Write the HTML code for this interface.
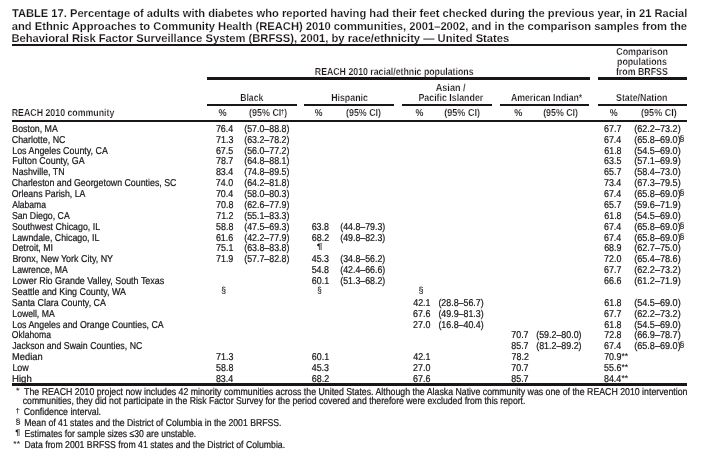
<!DOCTYPE html>
<html lang="en">
<head>
<meta charset="utf-8">
<title>TABLE 17</title>
<style>
html,body{margin:0;padding:0;background:#fff;}
body{width:701px;overflow:hidden;}
svg{display:block;font-family:"Liberation Sans",Arial,Helvetica,sans-serif;font-size:10.0px;fill:#191519;}
text{white-space:pre;}
.c0{font-size:11.3px;font-weight:bold;stroke:#fff;stroke-width:0.15;stroke-linejoin:round}
.c1{font-size:10.2px;font-weight:bold;stroke:#fff;stroke-width:0.18;stroke-linejoin:round}
.c2{font-size:10.2px;font-weight:bold;stroke:#fff;stroke-width:0.1;stroke-linejoin:round}
.c3{font-size:6.82px;font-weight:bold}
.c4{font-size:10px;stroke:#191519;stroke-width:0.22;stroke-linejoin:round}
.c5{font-size:8.04px;stroke:#191519;stroke-width:0.1;stroke-linejoin:round}
.c6{font-size:8.55px;stroke:#191519;stroke-width:0.1;stroke-linejoin:round}
.c7{font-size:7.96px;font-weight:bold}
.c8{font-size:8.78px;stroke:#191519;stroke-width:0.1;stroke-linejoin:round}
.c9{font-size:7.41px;stroke:#191519;stroke-width:0.1;stroke-linejoin:round}
.c10{font-size:6.94px;stroke:#191519;stroke-width:0.1;stroke-linejoin:round}
.c11{font-size:7.67px;stroke:#191519;stroke-width:0.1;stroke-linejoin:round}
.c12{font-size:7.12px;stroke:#191519;stroke-width:0.1;stroke-linejoin:round}
</style>
</head>
<body>
<svg width="701" height="461" viewBox="0 0 701 461" text-rendering="geometricPrecision">
<rect x="0" y="0" width="701" height="461" fill="#fff"/>
<text class="c0" x="11.9" y="17" textLength="675.51" lengthAdjust="spacingAndGlyphs">TABLE 17. Percentage of adults with diabetes who reported having had their feet checked during the previous year, in 21 Racial</text>
<text class="c0" x="11.74" y="30" textLength="675.27" lengthAdjust="spacingAndGlyphs">and Ethnic Approaches to Community Health (REACH) 2010 communities, 2001–2002, and in the comparison samples from the</text>
<text class="c0" x="11.38" y="42" textLength="497.96" lengthAdjust="spacingAndGlyphs">Behavioral Risk Factor Surveillance System (BRFSS), 2001, by race/ethnicity — United States</text>
<text class="c1" x="314.8" y="75" textLength="158.74" lengthAdjust="spacingAndGlyphs">REACH 2010 racial/ethnic populations</text>
<text class="c1" x="616.26" y="55" textLength="51.79" lengthAdjust="spacingAndGlyphs">Comparison</text>
<text class="c1" x="617.02" y="65" textLength="49.78" lengthAdjust="spacingAndGlyphs">populations</text>
<text class="c1" x="615.95" y="75" textLength="51.83" lengthAdjust="spacingAndGlyphs">from BRFSS</text>
<text class="c1" x="240.22" y="101" textLength="23.05" lengthAdjust="spacingAndGlyphs">Black</text>
<text class="c1" x="331.15" y="101" textLength="36.78" lengthAdjust="spacingAndGlyphs">Hispanic</text>
<text class="c1" x="435.72" y="91" textLength="29.86" lengthAdjust="spacingAndGlyphs">Asian /</text>
<text class="c1" x="418.42" y="101" textLength="64.88" lengthAdjust="spacingAndGlyphs">Pacific Islander</text>
<text class="c1" x="510.9" y="101" textLength="71.35" lengthAdjust="spacingAndGlyphs">American Indian*</text>
<text class="c1" x="616.06" y="101" textLength="51.46" lengthAdjust="spacingAndGlyphs">State/Nation</text>
<text class="c1" x="11.75" y="116" textLength="102.63" lengthAdjust="spacingAndGlyphs">REACH 2010 community</text>
<text class="c2" x="218.6" y="116" textLength="8.12" lengthAdjust="spacingAndGlyphs">%</text>
<text class="c1" x="249" y="116" textLength="32.35" lengthAdjust="spacingAndGlyphs">(95% CI</text>
<text class="c3" x="280.88" y="113.54" textLength="3.18" lengthAdjust="spacingAndGlyphs">†</text>
<text class="c1" x="284.13" y="116" textLength="2.85" lengthAdjust="spacingAndGlyphs">)</text>
<text class="c2" x="314.8" y="116" textLength="7.72" lengthAdjust="spacingAndGlyphs">%</text>
<text class="c1" x="346.07" y="116" textLength="34.9" lengthAdjust="spacingAndGlyphs">(95% CI)</text>
<text class="c2" x="415.45" y="116" textLength="7.91" lengthAdjust="spacingAndGlyphs">%</text>
<text class="c1" x="444.31" y="116" textLength="35.67" lengthAdjust="spacingAndGlyphs">(95% CI)</text>
<text class="c2" x="514.28" y="116" textLength="8.14" lengthAdjust="spacingAndGlyphs">%</text>
<text class="c1" x="543.14" y="116" textLength="34.83" lengthAdjust="spacingAndGlyphs">(95% CI)</text>
<text class="c2" x="609.86" y="116" textLength="7.91" lengthAdjust="spacingAndGlyphs">%</text>
<text class="c1" x="641.1" y="116" textLength="35.61" lengthAdjust="spacingAndGlyphs">(95% CI)</text>
<text class="c4" x="12.28" y="132" textLength="45.54" lengthAdjust="spacingAndGlyphs">Boston, MA</text>
<text class="c4" x="11.73" y="143" textLength="53.73" lengthAdjust="spacingAndGlyphs">Charlotte, NC</text>
<text class="c4" x="12.24" y="154" textLength="95.61" lengthAdjust="spacingAndGlyphs">Los Angeles County, CA</text>
<text class="c4" x="12.25" y="164" textLength="72.32" lengthAdjust="spacingAndGlyphs">Fulton County, GA</text>
<text class="c4" x="12.27" y="175" textLength="52.3" lengthAdjust="spacingAndGlyphs">Nashville, TN</text>
<text class="c4" x="11.75" y="186" textLength="164.72" lengthAdjust="spacingAndGlyphs">Charleston and Georgetown Counties, SC</text>
<text class="c4" x="11.78" y="197" textLength="73.72" lengthAdjust="spacingAndGlyphs">Orleans Parish, LA</text>
<text class="c4" x="12.22" y="208" textLength="33.72" lengthAdjust="spacingAndGlyphs">Alabama</text>
<text class="c4" x="11.88" y="219" textLength="57.84" lengthAdjust="spacingAndGlyphs">San Diego, CA</text>
<text class="c4" x="11.88" y="230" textLength="88.18" lengthAdjust="spacingAndGlyphs">Southwest Chicago, IL</text>
<text class="c4" x="12.3" y="241" textLength="87.04" lengthAdjust="spacingAndGlyphs">Lawndale, Chicago, IL</text>
<text class="c4" x="12.29" y="251" textLength="40.8" lengthAdjust="spacingAndGlyphs">Detroit, MI</text>
<text class="c4" x="12.4" y="262" textLength="100.7" lengthAdjust="spacingAndGlyphs">Bronx, New York City, NY</text>
<text class="c4" x="12.35" y="273" textLength="55.35" lengthAdjust="spacingAndGlyphs">Lawrence, MA</text>
<text class="c4" x="12.41" y="284" textLength="151.79" lengthAdjust="spacingAndGlyphs">Lower Rio Grande Valley, South Texas</text>
<text class="c4" x="11.85" y="295" textLength="114.03" lengthAdjust="spacingAndGlyphs">Seattle and King County, WA</text>
<text class="c4" x="11.87" y="306" textLength="94.05" lengthAdjust="spacingAndGlyphs">Santa Clara County, CA</text>
<text class="c4" x="12.34" y="317" textLength="42.34" lengthAdjust="spacingAndGlyphs">Lowell, MA</text>
<text class="c4" x="12.27" y="328" textLength="151.48" lengthAdjust="spacingAndGlyphs">Los Angeles and Orange Counties, CA</text>
<text class="c4" x="11.81" y="338" textLength="39.14" lengthAdjust="spacingAndGlyphs">Oklahoma</text>
<text class="c4" x="12.14" y="349" textLength="130.18" lengthAdjust="spacingAndGlyphs">Jackson and Swain Counties, NC</text>
<text class="c4" x="12.09" y="360" textLength="30.49" lengthAdjust="spacingAndGlyphs">Median</text>
<text class="c4" x="12.41" y="371" textLength="16.33" lengthAdjust="spacingAndGlyphs">Low</text>
<text class="c4" x="12.05" y="382" textLength="19.69" lengthAdjust="spacingAndGlyphs">High</text>
<text class="c4" x="215.88" y="132" textLength="17.32" lengthAdjust="spacingAndGlyphs">76.4</text>
<text class="c4" x="244.2" y="132" textLength="45.2" lengthAdjust="spacingAndGlyphs">(57.0–88.8)</text>
<text class="c4" x="216.11" y="143" textLength="17.32" lengthAdjust="spacingAndGlyphs">71.3</text>
<text class="c4" x="244.2" y="143" textLength="45.2" lengthAdjust="spacingAndGlyphs">(63.2–78.2)</text>
<text class="c4" x="215.91" y="154" textLength="17.32" lengthAdjust="spacingAndGlyphs">67.5</text>
<text class="c4" x="244.2" y="154" textLength="45.2" lengthAdjust="spacingAndGlyphs">(56.0–77.2)</text>
<text class="c4" x="216.01" y="164" textLength="17.32" lengthAdjust="spacingAndGlyphs">78.7</text>
<text class="c4" x="244.2" y="164" textLength="45.2" lengthAdjust="spacingAndGlyphs">(64.8–88.1)</text>
<text class="c4" x="215.88" y="175" textLength="17.32" lengthAdjust="spacingAndGlyphs">83.4</text>
<text class="c4" x="244.2" y="175" textLength="45.2" lengthAdjust="spacingAndGlyphs">(74.8–89.5)</text>
<text class="c4" x="215.79" y="186" textLength="17.32" lengthAdjust="spacingAndGlyphs">74.0</text>
<text class="c4" x="244.2" y="186" textLength="45.2" lengthAdjust="spacingAndGlyphs">(64.2–81.8)</text>
<text class="c4" x="215.88" y="197" textLength="17.32" lengthAdjust="spacingAndGlyphs">70.4</text>
<text class="c4" x="244.2" y="197" textLength="45.2" lengthAdjust="spacingAndGlyphs">(58.0–80.3)</text>
<text class="c4" x="216.11" y="208" textLength="17.32" lengthAdjust="spacingAndGlyphs">70.8</text>
<text class="c4" x="244.2" y="208" textLength="45.2" lengthAdjust="spacingAndGlyphs">(62.6–77.9)</text>
<text class="c4" x="216.2" y="219" textLength="17.32" lengthAdjust="spacingAndGlyphs">71.2</text>
<text class="c4" x="244.2" y="219" textLength="45.2" lengthAdjust="spacingAndGlyphs">(55.1–83.3)</text>
<text class="c4" x="216.11" y="230" textLength="17.32" lengthAdjust="spacingAndGlyphs">58.8</text>
<text class="c4" x="244.2" y="230" textLength="45.2" lengthAdjust="spacingAndGlyphs">(47.5–69.3)</text>
<text class="c4" x="215.9" y="241" textLength="17.32" lengthAdjust="spacingAndGlyphs">61.6</text>
<text class="c4" x="244.2" y="241" textLength="45.2" lengthAdjust="spacingAndGlyphs">(42.2–77.9)</text>
<text class="c4" x="216.06" y="251" textLength="17.32" lengthAdjust="spacingAndGlyphs">75.1</text>
<text class="c4" x="244.2" y="251" textLength="45.2" lengthAdjust="spacingAndGlyphs">(63.8–83.8)</text>
<text class="c4" x="216" y="262" textLength="17.32" lengthAdjust="spacingAndGlyphs">71.9</text>
<text class="c4" x="244.2" y="262" textLength="45.2" lengthAdjust="spacingAndGlyphs">(57.7–82.8)</text>
<text class="c4" x="311.68" y="230" textLength="17.32" lengthAdjust="spacingAndGlyphs">63.8</text>
<text class="c4" x="340.28" y="230" textLength="45" lengthAdjust="spacingAndGlyphs">(44.8–79.3)</text>
<text class="c4" x="311.81" y="241" textLength="17.32" lengthAdjust="spacingAndGlyphs">68.2</text>
<text class="c4" x="340.28" y="241" textLength="45" lengthAdjust="spacingAndGlyphs">(49.8–82.3)</text>
<text class="c4" x="311.7" y="262" textLength="17.32" lengthAdjust="spacingAndGlyphs">45.3</text>
<text class="c4" x="340.28" y="262" textLength="45" lengthAdjust="spacingAndGlyphs">(34.8–56.2)</text>
<text class="c4" x="311.68" y="273" textLength="17.32" lengthAdjust="spacingAndGlyphs">54.8</text>
<text class="c4" x="340.28" y="273" textLength="45" lengthAdjust="spacingAndGlyphs">(42.4–66.6)</text>
<text class="c4" x="311.86" y="284" textLength="17.32" lengthAdjust="spacingAndGlyphs">60.1</text>
<text class="c4" x="340.28" y="284" textLength="45" lengthAdjust="spacingAndGlyphs">(51.3–68.2)</text>
<text class="c4" x="413.19" y="306" textLength="17.32" lengthAdjust="spacingAndGlyphs">42.1</text>
<text class="c4" x="438.38" y="306" textLength="45.33" lengthAdjust="spacingAndGlyphs">(28.8–56.7)</text>
<text class="c4" x="413.04" y="317" textLength="17.32" lengthAdjust="spacingAndGlyphs">67.6</text>
<text class="c4" x="438.38" y="317" textLength="45.33" lengthAdjust="spacingAndGlyphs">(49.9–81.3)</text>
<text class="c4" x="413.02" y="328" textLength="17.32" lengthAdjust="spacingAndGlyphs">27.0</text>
<text class="c4" x="438.38" y="328" textLength="45.33" lengthAdjust="spacingAndGlyphs">(16.8–40.4)</text>
<text class="c4" x="511.25" y="338" textLength="17.32" lengthAdjust="spacingAndGlyphs">70.7</text>
<text class="c4" x="536.2" y="338" textLength="45.37" lengthAdjust="spacingAndGlyphs">(59.2–80.0)</text>
<text class="c4" x="511.25" y="349" textLength="17.32" lengthAdjust="spacingAndGlyphs">85.7</text>
<text class="c4" x="536.2" y="349" textLength="45.37" lengthAdjust="spacingAndGlyphs">(81.2–89.2)</text>
<text class="c4" x="604.03" y="132" textLength="17.32" lengthAdjust="spacingAndGlyphs">67.7</text>
<text class="c4" x="634.18" y="132" textLength="46.53" lengthAdjust="spacingAndGlyphs">(62.2–73.2)</text>
<text class="c4" x="603.95" y="143" textLength="17.32" lengthAdjust="spacingAndGlyphs">67.4</text>
<text class="c4" x="634.18" y="143" textLength="46.53" lengthAdjust="spacingAndGlyphs">(65.8–69.0)</text>
<text class="c5" x="679.64" y="141.22" textLength="4.93" lengthAdjust="spacingAndGlyphs">§</text>
<text class="c4" x="604.25" y="154" textLength="17.32" lengthAdjust="spacingAndGlyphs">61.8</text>
<text class="c4" x="634.18" y="154" textLength="46.53" lengthAdjust="spacingAndGlyphs">(54.5–69.0)</text>
<text class="c4" x="604.06" y="164" textLength="17.32" lengthAdjust="spacingAndGlyphs">63.5</text>
<text class="c4" x="634.18" y="164" textLength="46.53" lengthAdjust="spacingAndGlyphs">(57.1–69.9)</text>
<text class="c4" x="604.03" y="175" textLength="17.32" lengthAdjust="spacingAndGlyphs">65.7</text>
<text class="c4" x="634.18" y="175" textLength="46.53" lengthAdjust="spacingAndGlyphs">(58.4–73.0)</text>
<text class="c4" x="603.95" y="186" textLength="17.32" lengthAdjust="spacingAndGlyphs">73.4</text>
<text class="c4" x="634.18" y="186" textLength="46.53" lengthAdjust="spacingAndGlyphs">(67.3–79.5)</text>
<text class="c4" x="603.95" y="197" textLength="17.32" lengthAdjust="spacingAndGlyphs">67.4</text>
<text class="c4" x="634.18" y="197" textLength="46.53" lengthAdjust="spacingAndGlyphs">(65.8–69.0)</text>
<text class="c5" x="679.64" y="195.22" textLength="4.93" lengthAdjust="spacingAndGlyphs">§</text>
<text class="c4" x="604.03" y="208" textLength="17.32" lengthAdjust="spacingAndGlyphs">65.7</text>
<text class="c4" x="634.18" y="208" textLength="46.53" lengthAdjust="spacingAndGlyphs">(59.6–71.9)</text>
<text class="c4" x="604.25" y="219" textLength="17.32" lengthAdjust="spacingAndGlyphs">61.8</text>
<text class="c4" x="634.18" y="219" textLength="46.53" lengthAdjust="spacingAndGlyphs">(54.5–69.0)</text>
<text class="c4" x="603.95" y="230" textLength="17.32" lengthAdjust="spacingAndGlyphs">67.4</text>
<text class="c4" x="634.18" y="230" textLength="46.53" lengthAdjust="spacingAndGlyphs">(65.8–69.0)</text>
<text class="c5" x="679.64" y="228.22" textLength="4.93" lengthAdjust="spacingAndGlyphs">§</text>
<text class="c4" x="603.95" y="241" textLength="17.32" lengthAdjust="spacingAndGlyphs">67.4</text>
<text class="c4" x="634.18" y="241" textLength="46.53" lengthAdjust="spacingAndGlyphs">(65.8–69.0)</text>
<text class="c5" x="679.64" y="239.22" textLength="4.93" lengthAdjust="spacingAndGlyphs">§</text>
<text class="c4" x="604.14" y="251" textLength="17.32" lengthAdjust="spacingAndGlyphs">68.9</text>
<text class="c4" x="634.18" y="251" textLength="46.53" lengthAdjust="spacingAndGlyphs">(62.7–75.0)</text>
<text class="c4" x="604.02" y="262" textLength="17.32" lengthAdjust="spacingAndGlyphs">72.0</text>
<text class="c4" x="634.18" y="262" textLength="46.53" lengthAdjust="spacingAndGlyphs">(65.4–78.6)</text>
<text class="c4" x="604.03" y="273" textLength="17.32" lengthAdjust="spacingAndGlyphs">67.7</text>
<text class="c4" x="634.18" y="273" textLength="46.53" lengthAdjust="spacingAndGlyphs">(62.2–73.2)</text>
<text class="c4" x="604.04" y="284" textLength="17.32" lengthAdjust="spacingAndGlyphs">66.6</text>
<text class="c4" x="634.18" y="284" textLength="46.53" lengthAdjust="spacingAndGlyphs">(61.2–71.9)</text>
<text class="c4" x="604.25" y="306" textLength="17.32" lengthAdjust="spacingAndGlyphs">61.8</text>
<text class="c4" x="634.18" y="306" textLength="46.53" lengthAdjust="spacingAndGlyphs">(54.5–69.0)</text>
<text class="c4" x="604.03" y="317" textLength="17.32" lengthAdjust="spacingAndGlyphs">67.7</text>
<text class="c4" x="634.18" y="317" textLength="46.53" lengthAdjust="spacingAndGlyphs">(62.2–73.2)</text>
<text class="c4" x="604.25" y="328" textLength="17.32" lengthAdjust="spacingAndGlyphs">61.8</text>
<text class="c4" x="634.18" y="328" textLength="46.53" lengthAdjust="spacingAndGlyphs">(54.5–69.0)</text>
<text class="c4" x="604.25" y="338" textLength="17.32" lengthAdjust="spacingAndGlyphs">72.8</text>
<text class="c4" x="634.18" y="338" textLength="46.53" lengthAdjust="spacingAndGlyphs">(66.9–78.7)</text>
<text class="c4" x="603.95" y="349" textLength="17.32" lengthAdjust="spacingAndGlyphs">67.4</text>
<text class="c4" x="634.18" y="349" textLength="46.53" lengthAdjust="spacingAndGlyphs">(65.8–69.0)</text>
<text class="c5" x="679.64" y="347.22" textLength="4.93" lengthAdjust="spacingAndGlyphs">§</text>
<text class="c4" x="216.11" y="360" textLength="17.32" lengthAdjust="spacingAndGlyphs">71.3</text>
<text class="c4" x="311.86" y="360" textLength="17.32" lengthAdjust="spacingAndGlyphs">60.1</text>
<text class="c4" x="413.19" y="360" textLength="17.32" lengthAdjust="spacingAndGlyphs">42.1</text>
<text class="c4" x="511.52" y="360" textLength="17.32" lengthAdjust="spacingAndGlyphs">78.2</text>
<text class="c4" x="604.14" y="360" textLength="17.32" lengthAdjust="spacingAndGlyphs">70.9</text>
<text class="c6" x="621.43" y="359.38" textLength="6.73" lengthAdjust="spacingAndGlyphs">**</text>
<text class="c4" x="216.11" y="371" textLength="17.32" lengthAdjust="spacingAndGlyphs">58.8</text>
<text class="c4" x="311.7" y="371" textLength="17.32" lengthAdjust="spacingAndGlyphs">45.3</text>
<text class="c4" x="413.02" y="371" textLength="17.32" lengthAdjust="spacingAndGlyphs">27.0</text>
<text class="c4" x="511.25" y="371" textLength="17.32" lengthAdjust="spacingAndGlyphs">70.7</text>
<text class="c4" x="604.04" y="371" textLength="17.32" lengthAdjust="spacingAndGlyphs">55.6</text>
<text class="c6" x="621.43" y="370.38" textLength="6.73" lengthAdjust="spacingAndGlyphs">**</text>
<text class="c4" x="215.88" y="382" textLength="17.32" lengthAdjust="spacingAndGlyphs">83.4</text>
<text class="c4" x="311.81" y="382" textLength="17.32" lengthAdjust="spacingAndGlyphs">68.2</text>
<text class="c4" x="413.04" y="382" textLength="17.32" lengthAdjust="spacingAndGlyphs">67.6</text>
<text class="c4" x="511.25" y="382" textLength="17.32" lengthAdjust="spacingAndGlyphs">85.7</text>
<text class="c4" x="603.95" y="382" textLength="17.32" lengthAdjust="spacingAndGlyphs">84.4</text>
<text class="c6" x="621.43" y="381.38" textLength="6.73" lengthAdjust="spacingAndGlyphs">**</text>
<text class="c7" x="316.85" y="249.47" textLength="5.71" lengthAdjust="spacingAndGlyphs">¶</text>
<text class="c8" x="221.26" y="293.26" textLength="4.8" lengthAdjust="spacingAndGlyphs">§</text>
<text class="c8" x="317.36" y="293.26" textLength="4.47" lengthAdjust="spacingAndGlyphs">§</text>
<text class="c8" x="418.5" y="293.26" textLength="5.05" lengthAdjust="spacingAndGlyphs">§</text>
<text class="c9" x="16.09" y="393.4" textLength="3.53" lengthAdjust="spacingAndGlyphs">*</text>
<text class="c4" x="24.11" y="395" textLength="663.35" lengthAdjust="spacingAndGlyphs">The REACH 2010 project now includes 42 minority communities across the United States. Although the Alaska Native community was one of the REACH 2010 intervention</text>
<text class="c4" x="22.73" y="404" textLength="502.72" lengthAdjust="spacingAndGlyphs">communities, they did not participate in the Risk Factor Survey for the period covered and therefore were excluded from this report.</text>
<text class="c10" x="15.54" y="413.03" textLength="4.33" lengthAdjust="spacingAndGlyphs">†</text>
<text class="c4" x="23.76" y="415" textLength="77.28" lengthAdjust="spacingAndGlyphs">Confidence interval.</text>
<text class="c11" x="15.48" y="424.36" textLength="5.12" lengthAdjust="spacingAndGlyphs">§</text>
<text class="c4" x="24.28" y="426" textLength="257.22" lengthAdjust="spacingAndGlyphs">Mean of 41 states and the District of Columbia in the 2001 BRFSS.</text>
<text class="c7" x="15.21" y="434.97" textLength="5.01" lengthAdjust="spacingAndGlyphs">¶</text>
<text class="c4" x="24.55" y="437" textLength="171.63" lengthAdjust="spacingAndGlyphs">Estimates for sample sizes ≤30 are unstable.</text>
<text class="c4" x="24.51" y="448" textLength="260.58" lengthAdjust="spacingAndGlyphs">Data from 2001 BRFSS from 41 states and the District of Columbia.</text>
<text class="c12" x="13.32" y="446.4" textLength="6.65" lengthAdjust="spacingAndGlyphs">**</text>
<rect x="12" y="44" width="675" height="2"/>
<rect x="207" y="77" width="383" height="3"/>
<rect x="598" y="77" width="89" height="3"/>
<rect x="207" y="104" width="90" height="2"/>
<rect x="304" y="104" width="90" height="2"/>
<rect x="402" y="104" width="90" height="2"/>
<rect x="500" y="104" width="89" height="2"/>
<rect x="598" y="104" width="89" height="2"/>
<rect x="12" y="120" width="675" height="2"/>
<rect x="12" y="383" width="675" height="3"/>
</svg>
</body>
</html>
